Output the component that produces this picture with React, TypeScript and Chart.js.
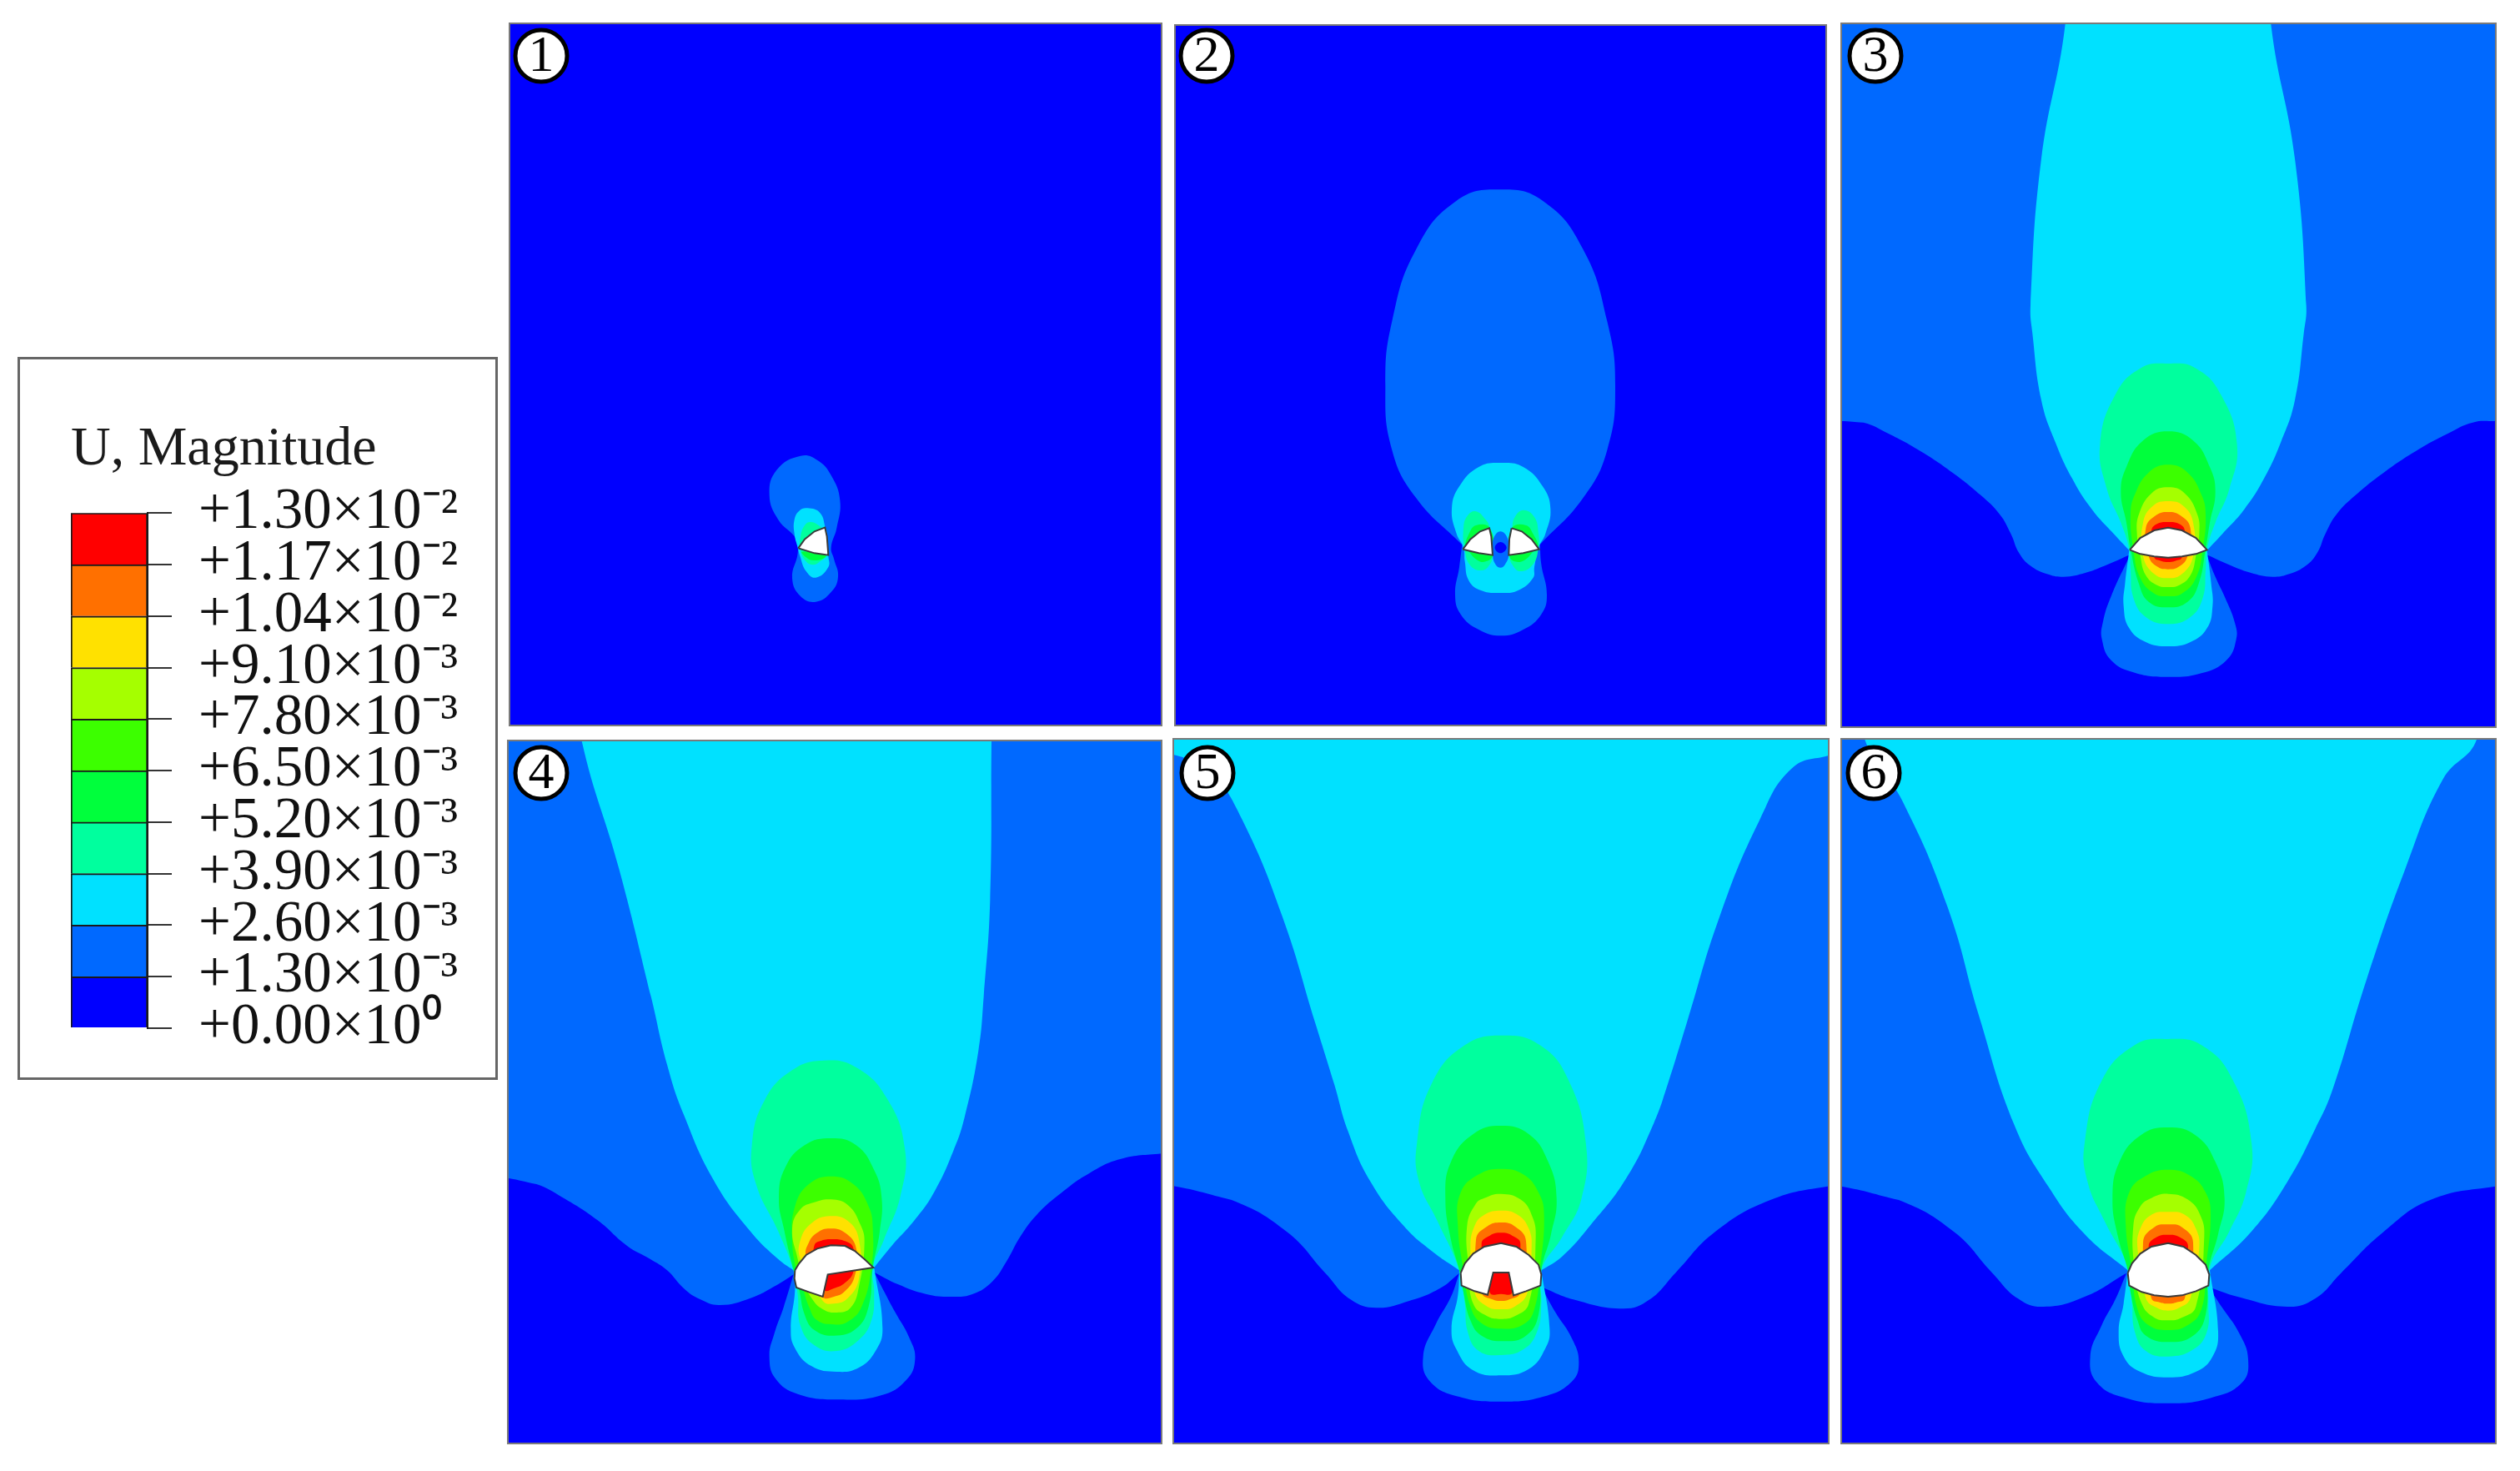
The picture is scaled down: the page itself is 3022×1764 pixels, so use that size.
import React, { useEffect, useRef } from "react";
import { Chart, registerables } from "chart.js";

Chart.register(...registerables);

type Pt = [number, number];

// Contour levels of U, Magnitude
const tickValues = [0.013, 0.0117, 0.0104, 0.0091, 0.0078, 0.0065, 0.0052, 0.0039, 0.0026, 0.0013, 0];
const tickLabels = ["+1.30×10⁻²", "+1.17×10⁻²", "+1.04×10⁻²", "+9.10×10⁻³", "+7.80×10⁻³", "+6.50×10⁻³", "+5.20×10⁻³", "+3.90×10⁻³", "+2.60×10⁻³", "+1.30×10⁻³", "+0.00×10⁰"];
const bandColors = ["#0000ff", "#0069ff", "#00e1ff", "#00ff9e", "#00ff3c", "#3cff00", "#a5ff00", "#ffe100", "#ff7000", "#ff0000"];
const bandWidths = [0.0013, 0.0013, 0.0013, 0.0013, 0.0013, 0.0013, 0.0013, 0.0013, 0.0013, 0.0013];
const panelLabels = ["1", "2", "3", "4", "5", "6"];

// Panel 1 contours
const p1Blue: Pt[] = [[480,140],[540,155],[590,210],[622,300],[610,400],[590,470],[600,510],[615,575],[590,630],[535,665],[480,645],[450,580],[470,490],[465,440],[400,370],[368,280],[395,190]];
const p1Cyan: Pt[] = [[505,328],[550,345],[570,400],[575,420],[580,500],[580,540],[535,578],[500,555],[478,500],[470,470],[458,420],[458,370],[475,338]];
const p1Teal: Pt[] = [[515,378],[545,390],[560,410],[575,495],[550,520],[525,532],[500,520],[480,480],[480,430],[495,390]];
const p1Green: Pt[] = [[485,485],[570,498],[555,512],[520,515],[500,505]];
const p1Crack: Pt[] = [[472,472],[472,472],[495,440],[530,412],[568,398],[568,398],[575,430],[580,497],[580,497],[530,490],[472,472]];

// Panel 2 contours
const p2Blue: Pt[] = [[595,-818],[751,-777],[895,-604],[982,-344],[1011,-112],[982,119],[895,292],[740,460],[740,460],[745,530],[765,640],[745,710],[680,765],[600,787],[520,765],[455,710],[435,640],[450,540],[460,460],[460,460],[295,292],[208,119],[184,-112],[208,-344],[295,-604],[439,-777]];
const p2Cyan: Pt[] = [[600,165],[680,180],[750,250],[778,330],[760,420],[735,470],[720,540],[715,580],[660,625],[600,633],[530,625],[485,590],[470,520],[465,470],[440,420],[423,330],[450,250],[520,180]];
const p2TealL: Pt[] = [[510,340],[545,370],[560,400],[570,495],[560,530],[530,552],[490,535],[470,480],[465,400],[480,355]];
const p2TealR: Pt[] = [[680,335],[720,360],[735,420],[735,470],[715,530],[670,555],[640,530],[630,495],[640,400],[650,360]];
const p2GreenL: Pt[] = [[510,390],[560,400],[570,497],[545,520],[515,515],[480,480],[470,470],[485,420]];
const p2GreenR: Pt[] = [[690,390],[640,400],[630,497],[650,520],[685,515],[720,480],[735,470],[715,420]];
const p2Mid: Pt[] = [[598,412],[625,440],[628,495],[615,530],[598,542],[580,530],[570,495],[572,440]];
const p2Core: Pt[] = [[598,450],[620,470],[598,490],[578,470]];
const p2CrackL: Pt[] = [[463,476],[490,440],[525,412],[558,400],[565,430],[570,497],[520,490],[463,476]];
const p2CrackR: Pt[] = [[638,400],[675,412],[710,440],[737,476],[680,490],[628,497],[630,440],[638,400]];

// Panel 3 contours
const p3Blue: Pt[] = [[-700,312],[-576,315],[-496,320],[-406,360],[-296,420],[-176,500],[-76,580],[-6,650],[34,720],[64,790],[104,835],[164,865],[224,875],[304,860],[384,830],[464,795],[464,795],[395,945],[365,1040],[362,1100],[395,1175],[480,1220],[600,1235],[720,1222],[810,1175],[845,1100],[840,1040],[805,950],[772,880],[738,795],[738,795],[816,830],[896,860],[976,875],[1036,865],[1096,835],[1136,790],[1166,720],[1206,650],[1276,580],[1376,500],[1496,420],[1606,360],[1696,320],[1776,315],[1900,312],[1900,-1300],[-700,-1300]];
const p3Cyan: Pt[] = [[600,1125],[520,1110],[460,1060],[440,980],[445,900],[460,780],[460,780],[404,720],[324,630],[254,520],[194,390],[144,240],[112,0],[105,-101],[143,-622],[230,-1113],[225,-1300],[975,-1300],[970,-1113],[1057,-622],[1097,-101],[1088,0],[1056,240],[1006,390],[946,520],[876,630],[796,720],[740,780],[740,780],[755,900],[760,980],[740,1060],[680,1110]];
const p3Teal: Pt[] = [[600,108],[700,125],[790,220],[848,400],[820,560],[770,680],[740,775],[735,850],[725,950],[680,1020],[600,1045],[520,1020],[475,950],[465,850],[460,775],[430,680],[380,560],[355,400],[410,220],[500,125]];
const p3Green: Pt[] = [[600,352],[690,385],[750,480],[770,570],[750,680],[735,775],[710,900],[670,965],[600,985],[530,965],[495,900],[465,775],[450,680],[430,570],[450,480],[510,385]];
const p3Lime: Pt[] = [[600,472],[670,500],[720,580],[735,650],[725,775],[700,880],[650,935],[600,945],[550,935],[500,880],[475,775],[465,650],[480,580],[530,500]];
const p3Chart: Pt[] = [[600,553],[660,575],[705,650],[712,720],[700,800],[680,870],[640,905],[600,912],[560,905],[520,870],[500,800],[488,720],[495,650],[540,575]];
const p3Yellow: Pt[] = [[600,603],[655,620],[690,680],[690,800],[650,865],[600,880],[550,865],[510,800],[510,680],[545,620]];
const p3Orange: Pt[] = [[600,642],[645,655],[680,700],[670,800],[640,838],[600,848],[560,838],[530,800],[520,700],[555,655]];
const p3Red: Pt[] = [[600,678],[640,685],[660,710],[650,805],[625,818],[600,822],[575,818],[550,805],[540,710],[560,685]];
const p3Crack: Pt[] = [[462,778],[500,735],[550,708],[600,698],[650,708],[700,735],[740,778],[700,793],[650,802],[600,806],[550,802],[500,793],[462,778]];

// Panel 4 contours
const p4Blue: Pt[] = [[-700,440],[-573,458],[-470,480],[-376,528],[-250,610],[-145,701],[-60,750],[0,790],[60,855],[120,895],[190,915],[300,890],[400,840],[455,805],[455,805],[420,920],[385,1020],[368,1100],[390,1180],[470,1235],[620,1255],[770,1240],[860,1185],[892,1110],[870,1030],[820,940],[745,797],[745,797],[830,840],[930,875],[1020,885],[1100,875],[1170,830],[1220,760],[1270,670],[1330,590],[1420,510],[1520,440],[1630,390],[1780,370],[1900,360],[1900,-1300],[-700,-1300]];
const p4Cyan: Pt[] = [[610,1155],[520,1135],[460,1070],[445,1000],[460,860],[455,790],[455,790],[400,750],[300,650],[170,470],[60,230],[0,50],[-58,-195],[-174,-658],[-307,-1114],[-320,-1300],[1170,-1300],[1167,-1114],[1162,-542],[1139,-195],[1120,0],[1070,240],[1030,360],[960,510],[890,610],[810,700],[745,780],[745,780],[775,1000],[750,1080],[690,1140]];
const p4Teal: Pt[] = [[565,35],[680,60],[790,170],[855,350],[840,520],[780,680],[740,780],[745,870],[735,970],[690,1040],[610,1080],[530,1060],[480,990],[470,880],[455,790],[400,650],[320,480],[305,340],[350,180],[450,70]];
const p4Green: Pt[] = [[590,315],[680,340],[745,430],[772,530],[765,650],[740,780],[725,920],[680,1000],[600,1025],[530,1005],[495,950],[475,860],[455,790],[420,640],[402,530],[425,420],[495,340]];
const p4Lime: Pt[] = [[590,452],[670,480],[725,560],[740,640],[735,780],[700,920],[650,975],[600,985],[540,970],[510,920],[490,860],[465,790],[450,680],[460,560],[510,480]];
const p4Chart: Pt[] = [[590,535],[650,555],[695,625],[710,690],[690,850],[660,925],[610,942],[560,930],[520,890],[490,830],[470,750],[450,640],[480,570],[530,545]];
const p4Yellow: Pt[] = [[585,595],[650,612],[690,680],[690,820],[650,890],[600,910],[560,900],[480,750],[480,680],[520,620]];
const p4Orange: Pt[] = [[585,640],[640,655],[680,710],[675,810],[640,865],[600,885],[560,885],[500,740],[510,690],[540,655]];
const p4Red: Pt[] = [[590,678],[640,685],[670,710],[670,795],[640,835],[600,855],[565,860],[530,750],[530,700],[550,685]];
const p4Crack: Pt[] = [[460,790],[475,765],[500,735],[540,712],[590,700],[640,702],[675,720],[710,750],[742,780],[578,805],[560,885],[510,868],[465,852],[458,820],[460,790]];

// Panel 5 contours
const p5Blue: Pt[] = [[-700,570],[-579,577],[-369,627],[-170,742],[-32,890],[59,985],[151,1015],[270,990],[380,945],[450,890],[450,890],[420,975],[365,1075],[320,1190],[345,1280],[450,1335],[600,1352],[750,1335],[855,1280],[880,1210],[855,1125],[795,1030],[745,940],[745,940],[860,985],[1040,1018],[1135,985],[1227,890],[1370,742],[1569,627],[1780,577],[1900,570],[1900,-1300],[-700,-1300]];
const p5Cyan: Pt[] = [[600,1258],[500,1240],[440,1165],[422,1090],[445,970],[450,880],[450,880],[350,810],[250,720],[130,560],[50,380],[0,210],[-68,-9],[-187,-394],[-331,-741],[-447,-926],[-500,-950],[-579,-975],[-700,-1000],[-700,-1300],[1900,-1300],[1900,-1000],[1780,-972],[1647,-926],[1531,-741],[1387,-394],[1268,-9],[1200,210],[1150,350],[1050,550],[920,720],[820,830],[745,880],[745,880],[775,1090],[760,1160],[700,1235]];
const p5Teal: Pt[] = [[610,35],[740,70],[840,190],[905,420],[890,620],[820,760],[745,880],[745,1000],[730,1100],[680,1165],[600,1185],[520,1170],[480,1100],[470,1000],[450,880],[370,700],[305,560],[298,420],[350,210],[470,70]];
const p5Green: Pt[] = [[600,360],[700,390],[770,490],[800,620],[780,750],[745,880],[735,1040],[690,1115],[610,1135],[530,1115],[490,1060],[465,960],[450,880],[420,770],[400,620],[420,490],[500,390]];
const p5Lime: Pt[] = [[600,515],[680,535],[735,600],[755,680],[740,880],[720,1020],[680,1075],[600,1090],[530,1070],[490,1010],[465,880],[445,720],[455,600],[520,535]];
const p5Chart: Pt[] = [[600,605],[670,625],[710,680],[725,760],[700,1000],[650,1045],[600,1055],[550,1045],[500,1000],[485,880],[478,720],[510,640],[540,620]];
const p5Yellow: Pt[] = [[600,665],[660,680],[700,730],[710,800],[695,960],[650,1010],[600,1020],[550,1010],[505,960],[490,800],[505,720],[540,680]];
const p5Orange: Pt[] = [[600,708],[650,722],[690,775],[670,960],[630,985],[600,990],[570,985],[530,960],[510,770],[550,722]];
const p5Red: Pt[] = [[600,745],[640,755],[670,785],[640,960],[600,965],[560,960],[530,785],[560,755]];
const p5Crack: Pt[] = [[455,890],[470,855],[500,820],[540,795],[600,782],[655,795],[700,825],[735,860],[745,895],[742,935],[690,955],[645,970],[628,888],[572,888],[552,968],[505,955],[458,935],[455,890]];

// Panel 6 contours
const p6Blue: Pt[] = [[-700,570],[-576,578],[-369,627],[-170,742],[-32,890],[59,981],[151,1011],[300,975],[450,890],[450,890],[410,985],[360,1080],[320,1190],[345,1285],[450,1340],[600,1358],[750,1340],[865,1285],[888,1200],[855,1105],[795,1015],[745,940],[745,940],[850,975],[1030,1011],[1130,981],[1222,890],[1375,742],[1543,627],[1777,578],[1900,570],[1900,-1300],[-700,-1300]];
const p6Cyan: Pt[] = [[600,1265],[500,1245],[440,1190],[422,1100],[440,1000],[455,880],[455,880],[300,750],[170,580],[48,360],[-79,-31],[-193,-426],[-354,-805],[-492,-1032],[-520,-1300],[1730,-1300],[1711,-1032],[1589,-887],[1451,-558],[1313,-163],[1191,232],[1130,370],[1030,560],[900,740],[750,880],[750,880],[780,1100],[760,1190],[700,1245]];
const p6Teal: Pt[] = [[600,48],[720,70],[830,190],[900,420],[880,600],[820,740],[750,870],[745,1000],[740,1100],[690,1165],[600,1190],[520,1170],[480,1100],[470,1000],[455,870],[370,700],[310,560],[300,420],[360,200],[480,70]];
const p6Green: Pt[] = [[600,366],[700,395],[770,490],[803,620],[780,750],[745,880],[735,1040],[690,1115],[600,1138],[520,1115],[490,1060],[465,960],[455,880],[420,760],[400,620],[425,490],[500,395]];
const p6Lime: Pt[] = [[600,518],[680,540],[735,600],[753,680],[735,880],[720,1020],[670,1078],[600,1095],[530,1078],[490,1020],[470,880],[448,720],[460,600],[520,540]];
const p6Chart: Pt[] = [[600,605],[670,625],[715,680],[730,760],[700,1010],[650,1050],[600,1060],[550,1050],[505,1000],[480,880],[475,720],[500,650],[540,620]];
const p6Yellow: Pt[] = [[600,670],[660,680],[700,730],[712,800],[680,980],[640,1015],[600,1025],[560,1015],[520,980],[490,800],[500,730],[540,680]];
const p6Orange: Pt[] = [[600,715],[650,725],[690,780],[660,980],[630,995],[600,1000],[570,995],[540,980],[510,780],[550,725]];
const p6Red: Pt[] = [[600,752],[640,760],[672,795],[640,965],[600,970],[560,965],[530,795],[560,760]];
const p6Crack: Pt[] = [[455,890],[470,855],[500,820],[540,795],[600,782],[655,795],[700,825],[735,860],[748,895],[745,935],[700,955],[650,970],[600,975],[550,970],[505,958],[460,935],[455,890]];

type Layer = { band: number; pts: Pt[] };
const BLUE = 1, CYAN = 2, TEAL = 3, GREEN = 4, LIME = 5, CHART = 6, YELLOW = 7, ORANGE = 8, RED = 9;

const layer = (band: number, pts: Pt[]): Layer => ({ band, pts });

const panels = [
  {
    box: [611, 28, 1393, 870], origin: [800, 500], badge: [38, 39],
    layers: [layer(BLUE, p1Blue), layer(CYAN, p1Cyan), layer(TEAL, p1Teal), layer(GREEN, p1Green)],
    cracks: [p1Crack],
  },
  {
    box: [1409, 30, 2190, 870], origin: [1600, 500], badge: [38, 37],
    layers: [layer(BLUE, p2Blue), layer(CYAN, p2Cyan), layer(TEAL, p2TealL), layer(TEAL, p2TealR), layer(GREEN, p2GreenL), layer(GREEN, p2GreenR), layer(BLUE, p2Mid), layer(0, p2Core)],
    cracks: [p2CrackL, p2CrackR],
  },
  {
    box: [2208, 28, 2993, 872], origin: [2400, 400], badge: [41, 39],
    layers: [layer(BLUE, p3Blue), layer(CYAN, p3Cyan), layer(TEAL, p3Teal), layer(GREEN, p3Green), layer(LIME, p3Lime), layer(CHART, p3Chart), layer(YELLOW, p3Yellow), layer(ORANGE, p3Orange), layer(RED, p3Red)],
    cracks: [p3Crack],
  },
  {
    box: [609, 888, 1393, 1731], origin: [800, 1260], badge: [40, 39],
    layers: [layer(BLUE, p4Blue), layer(CYAN, p4Cyan), layer(TEAL, p4Teal), layer(GREEN, p4Green), layer(LIME, p4Lime), layer(CHART, p4Chart), layer(YELLOW, p4Yellow), layer(ORANGE, p4Orange), layer(RED, p4Red)],
    cracks: [p4Crack],
  },
  {
    box: [1407, 886, 2193, 1731], origin: [1600, 1230], badge: [41, 41],
    layers: [layer(BLUE, p5Blue), layer(CYAN, p5Cyan), layer(TEAL, p5Teal), layer(GREEN, p5Green), layer(LIME, p5Lime), layer(CHART, p5Chart), layer(YELLOW, p5Yellow), layer(ORANGE, p5Orange), layer(RED, p5Red)],
    cracks: [p5Crack],
  },
  {
    box: [2208, 886, 2993, 1731], origin: [2400, 1230], badge: [39, 41],
    layers: [layer(BLUE, p6Blue), layer(CYAN, p6Cyan), layer(TEAL, p6Teal), layer(GREEN, p6Green), layer(LIME, p6Lime), layer(CHART, p6Chart), layer(YELLOW, p6Yellow), layer(ORANGE, p6Orange), layer(RED, p6Red)],
    cracks: [p6Crack],
  },
];

const SERIF = '"Liberation Serif", serif';

// The path is run past its start so that the spline closes without a cusp.
const closedLoop = (pts: Pt[]) => {
  const n = pts.length;
  return [pts[n - 2], pts[n - 1], ...pts, pts[0], pts[1], pts[2]].map(([x, y]) => ({ x, y }));
};

function Panel({ index }: { index: number }) {
  const ref = useRef<HTMLCanvasElement | null>(null);
  const panel = panels[index];
  const [l, t, r, b] = panel.box;
  useEffect(() => {
    const [ox, oy] = panel.origin;
    const total = panel.layers.length + panel.cracks.length;
    const contourSets = panel.layers.map((ly, i) => ({
      data: closedLoop(ly.pts),
      showLine: true,
      fill: "shape" as const,
      backgroundColor: bandColors[ly.band],
      borderWidth: 0,
      pointRadius: 0,
      tension: 0.45,
      order: total - i,
    }));
    const crackSets = panel.cracks.map((pts, i) => ({
      data: pts.map(([x, y]) => ({ x, y })),
      showLine: true,
      fill: "shape" as const,
      backgroundColor: "#ffffff",
      borderColor: "#3a3a3a",
      borderWidth: 2,
      pointRadius: 0,
      tension: 0,
      order: total - panel.layers.length - i,
    }));
    const badge = {
      id: "badge",
      afterDraw(c: Chart) {
        const ctx = c.ctx;
        const [bx, by] = panel.badge;
        ctx.save();
        ctx.beginPath();
        ctx.arc(bx, by, 31, 0, Math.PI * 2);
        ctx.fillStyle = "#ffffff";
        ctx.fill();
        ctx.lineWidth = 5;
        ctx.strokeStyle = "#000000";
        ctx.stroke();
        ctx.fillStyle = "#000000";
        ctx.font = `62px ${SERIF}`;
        ctx.textAlign = "center";
        ctx.textBaseline = "middle";
        ctx.fillText(panelLabels[index], bx, by + 2);
        ctx.restore();
      },
    };
    const chart = new Chart(ref.current!, {
      type: "scatter",
      data: { datasets: [...contourSets, ...crackSets] as any },
      options: {
        responsive: false,
        animation: false,
        layout: { padding: 0 },
        elements: { line: { capBezierPoints: false } },
        plugins: { legend: { display: false }, tooltip: { enabled: false }, title: { display: false } },
        scales: {
          x: { type: "linear", display: false, min: (l - ox) * 3, max: (r - ox) * 3 },
          y: { type: "linear", display: false, reverse: true, min: (t - oy) * 3, max: (b - oy) * 3 },
        },
      },
      plugins: [badge],
    });
    return () => chart.destroy();
  }, []);
  return (
    <canvas
      ref={ref}
      width={r - l}
      height={b - t}
      style={{ position: "absolute", left: l, top: t, width: r - l, height: b - t, background: bandColors[0], outline: "2px solid #7a7a7a", outlineOffset: -1 }}
    />
  );
}

function LegendChart() {
  const ref = useRef<HTMLCanvasElement | null>(null);
  useEffect(() => {
    const chart = new Chart(ref.current!, {
      type: "bar",
      data: {
        labels: ["U"],
        datasets: bandWidths.map((v, i) => ({
          data: [v],
          backgroundColor: bandColors[i],
          borderColor: "#1a1a1a",
          borderWidth: 2,
          barPercentage: 1,
          categoryPercentage: 1,
        })),
      },
      options: {
        responsive: false,
        animation: false,
        layout: { padding: { left: 62, top: 70, bottom: 60, right: 0 } },
        plugins: {
          legend: { display: false },
          tooltip: { enabled: false },
          title: {
            display: true,
            text: "U, Magnitude",
            align: "start",
            color: "#1a1a1a",
            font: { family: SERIF, size: 66, weight: "normal", lineHeight: 1.2 },
            padding: { top: 0, bottom: 36 },
          },
        },
        scales: {
          x: { stacked: true, display: false },
          y: {
            stacked: true,
            position: "right",
            min: 0,
            max: 0.013,
            afterFit: (ax: any) => { ax.width = 418; ax.paddingTop = 0; ax.paddingBottom = 0; },
            afterBuildTicks: (ax: any) => { ax.ticks = tickValues.map((value) => ({ value })); },
            border: { display: true, color: "#1a1a1a", width: 2 },
            grid: { drawOnChartArea: false, drawTicks: true, tickLength: 29, color: "#333333", lineWidth: 2 },
            ticks: {
              autoSkip: false,
              padding: 32,
              color: "#111111",
              font: { family: SERIF, size: 69 },
              callback: (_v: any, i: number) => tickLabels[i],
            },
          },
        },
      },
    });
    return () => chart.destroy();
  }, []);
  return (
    <canvas
      ref={ref}
      width={572}
      height={863}
      style={{ position: "absolute", left: 23, top: 430, width: 572, height: 863, outline: "3px solid #666666", outlineOffset: -1 }}
    />
  );
}

export default function App() {
  return (
    <div style={{ position: "absolute", left: 0, top: 0, width: 3022, height: 1764, background: "#ffffff", overflow: "hidden" }}>
      <LegendChart />
      {panels.map((_, i) => (
        <Panel key={i} index={i} />
      ))}
    </div>
  );
}
